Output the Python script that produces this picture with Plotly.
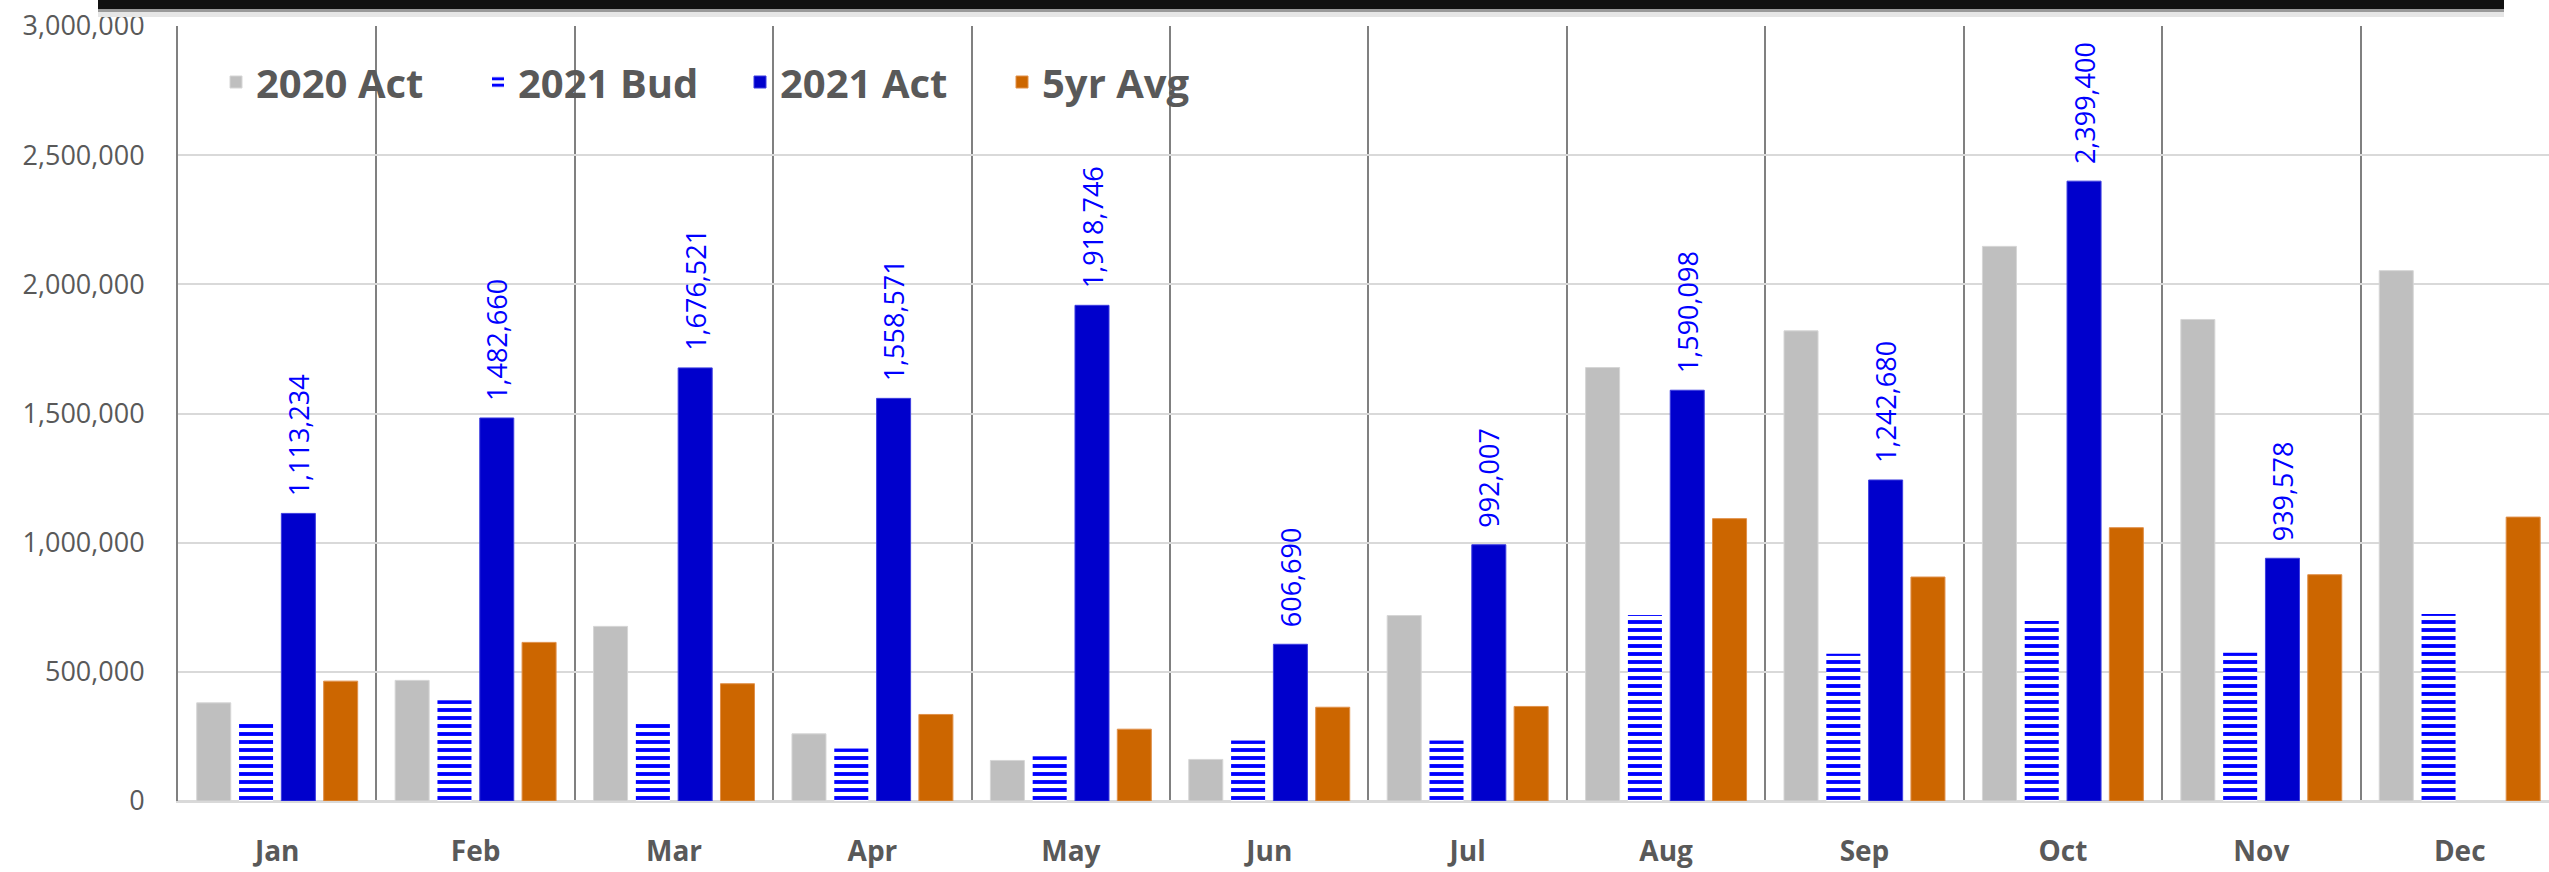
import plotly.graph_objects as go

months = ["Jan", "Feb", "Mar", "Apr", "May", "Jun", "Jul", "Aug", "Sep", "Oct", "Nov", "Dec"]
act_2020 = [380000, 467000, 676000, 260000, 157000, 161000, 718000, 1678000, 1820000, 2147000, 1864000, 2053000]
bud_2021 = [298000, 390000, 298000, 203000, 173000, 234000, 234000, 720000, 570000, 697000, 574000, 724000]
act_2021 = [1113234, 1482660, 1676521, 1558571, 1918746, 606690, 992007, 1590098, 1242680, 2399400, 939578, None]
avg_5yr = [464000, 614000, 454000, 335000, 278000, 363000, 366000, 1093000, 867000, 1058000, 876000, 1099000]
y_ticks = [0, 500000, 1000000, 1500000, 2000000, 2500000, 3000000]

labels_2021 = ["" if v is None else "\u00a0\u00a0" + f"{v:,}" for v in act_2021]

W, H = 2549, 872
L, R, T, B = 178, 0, 26, 71
pw, ph = W - L - R, H - T - B

fig = go.Figure()
fig.add_trace(go.Bar(
    name="2020 Act", x=months, y=act_2020,
    marker=dict(color="#BFBFBF", line=dict(color="#D6D6D6", width=1)),
))
fig.add_trace(go.Bar(
    name="2021 Bud", x=months, y=bud_2021,
    marker=dict(color="#0000FF", line=dict(width=0),
                pattern=dict(shape="-", fgcolor="#0000FF", bgcolor="white",
                             size=8, solidity=0.48, fillmode="replace")),
))
fig.add_trace(go.Bar(
    name="2021 Act", x=months, y=act_2021,
    marker=dict(color="#0000CC", line=dict(color="#3D3DE0", width=1)),
    text=labels_2021, textposition="outside", textangle=-90,
    textfont=dict(family="Open Sans", size=27, color="#0000FF"),
    constraintext="none", cliponaxis=False,
))
fig.add_trace(go.Bar(
    name="5yr Avg", x=months, y=avg_5yr,
    marker=dict(color="#CC6600", line=dict(color="#E0904A", width=1)),
))

def px_x(x):
    return (x - L) / pw

def px_y(y):
    return (H - B - y) / ph

shapes = [
    dict(type="rect", xref="paper", yref="paper", x0=px_x(98), x1=px_x(2504),
         y0=px_y(17), y1=px_y(12), fillcolor="#E6E6E6", line=dict(width=0), layer="above"),
    dict(type="rect", xref="paper", yref="paper", x0=px_x(98), x1=px_x(2504),
         y0=px_y(12), y1=px_y(9), fillcolor="#9A9A9A", line=dict(width=0), layer="above"),
    dict(type="rect", xref="paper", yref="paper", x0=px_x(98), x1=px_x(2504),
         y0=px_y(9), y1=px_y(0), fillcolor="#111111", line=dict(width=0), layer="above"),
]

fig.update_layout(
    width=W, height=H,
    margin=dict(l=L, r=R, t=T, b=B, pad=0, autoexpand=False),
    paper_bgcolor="white", plot_bgcolor="white",
    barmode="group", bargap=0.147, bargroupgap=0.196,
    font=dict(family="Open Sans", color="#595959"),
    showlegend=True,
    legend=dict(
        orientation="h", x=px_x(216), xanchor="left", y=px_y(82), yanchor="middle",
        font=dict(family="Open Sans", size=40, color="#595959", weight="bold"),
        bgcolor="rgba(0,0,0,0)", entrywidth=217, entrywidthmode="pixels",
        traceorder="normal",
    ),
    shapes=shapes,
    xaxis=dict(
        range=[-0.5, 11.45], tickson="boundaries", showgrid=True,
        gridcolor="#808080", gridwidth=2, ticks="", showline=True,
        linecolor="#D9D9D9", linewidth=2, automargin=False,
        tickfont=dict(family="Open Sans", size=28, color="#595959", weight="bold"),
        ticklabelstandoff=24,
    ),
    yaxis=dict(
        range=[0, 3000000], tickvals=y_ticks, tickformat=",d",
        showgrid=True, gridcolor="#D9D9D9", gridwidth=2,
        zeroline=True, zerolinecolor="#D9D9D9", zerolinewidth=2,
        showline=True, linecolor="#808080", linewidth=2, ticks="",
        automargin=False,
        tickfont=dict(family="Open Sans", size=27, color="#595959"),
        ticklabelstandoff=26,
    ),
)

fig.write_html(
    "out.html",
    config={"displayModeBar": False},
    post_script="document.body.style.margin='0';document.body.style.overflow='hidden';",
)
